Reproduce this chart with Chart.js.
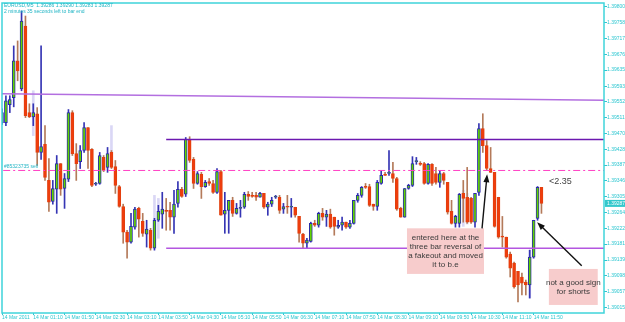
<!DOCTYPE html>
<html>
<head>
<meta charset="utf-8">
<script src="https://cdn.jsdelivr.net/npm/chart.js@4.4.0/dist/chart.umd.min.js"></script>
<style>
html, body { margin: 0; padding: 0; background: #fff; }
canvas { display: block; }
</style>
</head>
<body>
<canvas id="chart" width="625" height="322"></canvas>
<script>
// EURUSD M5, 14 Mar 2011, bar 0 = 00:30
const opens = [
  1.39498,1.39498,1.39545,1.39563,1.39659,1.39586,1.39750,1.39524,1.39513,1.39521,
  1.39420,1.39441,1.39347,1.39292,1.39324,1.39391,1.39326,1.39350,1.39524,1.39417,
  1.39396,1.39425,1.39485,1.39428,1.39337,1.39339,1.39407,1.39381,1.39420,1.39383,
  1.39331,1.39279,1.39212,1.39186,1.39225,1.39274,1.39240,1.39207,1.39217,1.39170,
  1.39243,1.39259,1.39269,1.39269,1.39251,1.39287,1.39324,1.39311,1.39454,1.39402,
  1.39339,1.39363,1.39331,1.39344,1.39339,1.39316,1.39370,1.39259,1.39269,1.39295,
  1.39261,1.39274,1.39277,1.39311,1.39308,1.39308,1.39303,1.39313,1.39277,1.39285,
  1.39303,1.39303,1.39272,1.39279,1.39277,1.39277,1.39253,1.39207,1.39183,1.39188,
  1.39235,1.39230,1.39261,1.39251,1.39259,1.39251,1.39225,1.39230,1.39238,1.39225,
  1.39235,1.39295,1.39308,1.39331,1.39331,1.39285,1.39279,1.39339,1.39363,1.39365,
  1.39365,1.39352,1.39274,1.39251,1.39326,1.39334,1.39396,1.39391,1.39391,1.39339,
  1.39389,1.39365,1.39342,1.39365,1.39342,1.39266,1.39235,1.39235,1.39313,1.39303,
  1.39300,1.39238,1.39316,1.39482,1.39438,1.39378,1.39368,1.39303,1.39201,1.39199,
  1.39155,1.39131,1.39110,1.39095,1.39082,1.39074,1.39147,1.39248,1.39329
];
const highs = [
  1.39534,1.39568,1.39568,1.39698,1.39711,1.39789,1.39776,1.39547,1.39547,1.39537,
  1.39698,1.39490,1.39404,1.39347,1.39412,1.39391,1.39365,1.39532,1.39529,1.39443,
  1.39438,1.39498,1.39485,1.39430,1.39342,1.39420,1.39412,1.39433,1.39425,1.39399,
  1.39334,1.39285,1.39217,1.39261,1.39277,1.39277,1.39261,1.39243,1.39222,1.39248,
  1.39282,1.39316,1.39300,1.39290,1.39321,1.39344,1.39329,1.39459,1.39461,1.39407,
  1.39370,1.39368,1.39347,1.39352,1.39347,1.39378,1.39373,1.39316,1.39295,1.39303,
  1.39287,1.39295,1.39316,1.39318,1.39316,1.39316,1.39316,1.39313,1.39290,1.39303,
  1.39308,1.39308,1.39287,1.39308,1.39300,1.39277,1.39253,1.39209,1.39196,1.39238,
  1.39243,1.39264,1.39274,1.39269,1.39272,1.39251,1.39243,1.39251,1.39238,1.39243,
  1.39295,1.39313,1.39331,1.39339,1.39337,1.39285,1.39347,1.39373,1.39368,1.39425,
  1.39394,1.39355,1.39277,1.39326,1.39337,1.39409,1.39407,1.39396,1.39394,1.39391,
  1.39391,1.39381,1.39373,1.39368,1.39342,1.39295,1.39256,1.39313,1.39347,1.39381,
  1.39303,1.39313,1.39495,1.39521,1.39451,1.39433,1.39368,1.39303,1.39253,1.39199,
  1.39160,1.39134,1.39110,1.39105,1.39087,1.39165,1.39243,1.39331,1.39329
];
const lows = [
  1.39493,1.39490,1.39524,1.39539,1.39607,1.39581,1.39511,1.39511,1.39490,1.39386,
  1.39402,1.39347,1.39266,1.39285,1.39261,1.39308,1.39274,1.39344,1.39412,1.39347,
  1.39378,1.39420,1.39378,1.39331,1.39334,1.39337,1.39370,1.39368,1.39378,1.39313,
  1.39277,1.39183,1.39144,1.39183,1.39220,1.39199,1.39201,1.39173,1.39165,1.39165,
  1.39240,1.39222,1.39217,1.39217,1.39209,1.39277,1.39303,1.39305,1.39394,1.39326,
  1.39337,1.39300,1.39329,1.39334,1.39313,1.39313,1.39256,1.39209,1.39209,1.39253,
  1.39259,1.39251,1.39274,1.39295,1.39303,1.39295,1.39303,1.39274,1.39256,1.39279,
  1.39300,1.39261,1.39261,1.39261,1.39251,1.39251,1.39186,1.39170,1.39170,1.39186,
  1.39227,1.39225,1.39243,1.39227,1.39222,1.39204,1.39222,1.39217,1.39222,1.39222,
  1.39233,1.39290,1.39303,1.39326,1.39279,1.39269,1.39269,1.39337,1.39360,1.39360,
  1.39342,1.39269,1.39251,1.39251,1.39324,1.39331,1.39389,1.39386,1.39337,1.39337,
  1.39334,1.39337,1.39329,1.39337,1.39259,1.39233,1.39225,1.39225,1.39238,1.39235,
  1.39235,1.39225,1.39308,1.39420,1.39373,1.39368,1.39225,1.39196,1.39173,1.39144,
  1.39095,1.39066,1.39030,1.39048,1.39048,1.39040,1.39144,1.39243,1.39261
];
const closes = [
  1.39524,1.39555,1.39558,1.39659,1.39633,1.39763,1.39516,1.39513,1.39524,1.39420,
  1.39435,1.39355,1.39290,1.39326,1.39391,1.39324,1.39352,1.39524,1.39417,1.39391,
  1.39425,1.39485,1.39425,1.39334,1.39339,1.39412,1.39373,1.39417,1.39381,1.39334,
  1.39279,1.39212,1.39186,1.39227,1.39272,1.39246,1.39209,1.39220,1.39170,1.39243,
  1.39266,1.39272,1.39266,1.39251,1.39285,1.39324,1.39305,1.39454,1.39399,1.39339,
  1.39365,1.39331,1.39342,1.39339,1.39316,1.39370,1.39256,1.39269,1.39295,1.39261,
  1.39274,1.39277,1.39311,1.39305,1.39305,1.39303,1.39313,1.39277,1.39285,1.39295,
  1.39305,1.39269,1.39279,1.39277,1.39279,1.39256,1.39209,1.39183,1.39191,1.39235,
  1.39230,1.39261,1.39251,1.39259,1.39225,1.39227,1.39230,1.39238,1.39225,1.39235,
  1.39295,1.39308,1.39329,1.39329,1.39282,1.39279,1.39342,1.39360,1.39360,1.39368,
  1.39352,1.39272,1.39251,1.39326,1.39334,1.39391,1.39399,1.39389,1.39339,1.39389,
  1.39339,1.39342,1.39365,1.39347,1.39264,1.39235,1.39253,1.39311,1.39300,1.39238,
  1.39238,1.39313,1.39482,1.39438,1.39378,1.39368,1.39227,1.39199,1.39199,1.39147,
  1.39118,1.39069,1.39074,1.39079,1.39074,1.39147,1.39243,1.39329,1.39287
];

// faint leftover bars that show through in the screenshot
const ghostBars = [8, 28, 39, 40, 118, 119, 135];
const ghostHighs = [1.39581, 1.39490, 1.39308, 1.39300, 1.39321, 1.39313, 1.39165];
const ghostLows = [1.39464, 1.39420, 1.39183, 1.39196, 1.39227, 1.39233, 1.39040];

// time axis: a label every 8 bars (40 min)
const timeTickBars = [0, 8, 16, 24, 32, 40, 48, 56, 64, 72, 80, 88, 96, 104, 112, 120, 128, 136];
const timeLabels = ['14 Mar 2011', '14 Mar 01:10', '14 Mar 01:50', '14 Mar 02:30', '14 Mar 03:10',
  '14 Mar 03:50', '14 Mar 04:30', '14 Mar 05:10', '14 Mar 05:50', '14 Mar 06:30', '14 Mar 07:10',
  '14 Mar 07:50', '14 Mar 08:30', '14 Mar 09:10', '14 Mar 09:50', '14 Mar 10:30', '14 Mar 11:10',
  '14 Mar 11:50'];
const priceTicks = [1.39800, 1.39758, 1.39717, 1.39676, 1.39635, 1.39593, 1.39552, 1.39511, 1.39470,
  1.39428, 1.39387, 1.39346, 1.39305, 1.39264, 1.39222, 1.39181, 1.39139, 1.39098, 1.39057, 1.39015];

// drawn objects
const trendBars = [0, 154];
const trendPrices = [1.39573, 1.39556];
const resistancePrice = 1.39454;
const supportPrice = 1.39170;
const orderPrice = 1.39373;
const levelStartBar = 42;
const lastBar = 154;

const bull = closes.map((c, i) => c > opens[i]);
const wickData = lows.map((l, i) => ({ x: i, y: [l, highs[i]] }));
const bodyData = opens.map((o, i) => ({ x: i, y: [o, closes[i]] }));
const ghostData = ghostBars.map((b, k) => ({ x: b, y: [ghostLows[k], ghostHighs[k]] }));

const axisColor = '#2cc6d0';
const txtFont = '"Liberation Sans", Arial, sans-serif';

function arrow(ctx, x1, y1, x2, y2) {
    const ang = Math.atan2(y2 - y1, x2 - x1);
    ctx.beginPath();
    ctx.moveTo(x1, y1);
    ctx.lineTo(x2 - 5 * Math.cos(ang), y2 - 5 * Math.sin(ang));
    ctx.stroke();
    ctx.beginPath();
    ctx.moveTo(x2, y2);
    ctx.lineTo(x2 - 8 * Math.cos(ang) + 3 * Math.sin(ang), y2 - 8 * Math.sin(ang) - 3 * Math.cos(ang));
    ctx.lineTo(x2 - 8 * Math.cos(ang) - 3 * Math.sin(ang), y2 - 8 * Math.sin(ang) + 3 * Math.cos(ang));
    ctx.closePath();
    ctx.fill();
}

function noteBox(ctx, x, y, b, lines, lh) {
    const left = x.getPixelForValue(b.x0), right = x.getPixelForValue(b.x1);
    const top = y.getPixelForValue(b.y0), bottom = y.getPixelForValue(b.y1);
    ctx.fillStyle = '#f7cccc';
    ctx.fillRect(left, top, right - left, bottom - top);
    ctx.fillStyle = '#3a3a3a';
    ctx.font = '8px ' + txtFont;
    ctx.textAlign = 'center';
    ctx.textBaseline = 'middle';
    const cx = (left + right) / 2;
    const cy = (top + bottom) / 2 - (lines.length - 1) * lh / 2;
    lines.forEach((t, k) => ctx.fillText(t, cx, cy + k * lh));
}

const overlay = {
    id: 'overlay',
    afterDatasetsDraw(chart) {
        const { ctx, chartArea: a, scales: { x, y } } = chart;
        ctx.save();

        // frame
        ctx.strokeStyle = '#3fd4da';
        ctx.lineWidth = 1.5;
        ctx.strokeRect(a.left, a.top, a.right - a.left, a.bottom - a.top);

        // header
        ctx.fillStyle = '#1fb4c4';
        ctx.font = '5px ' + txtFont;
        ctx.textAlign = 'left';
        ctx.textBaseline = 'top';
        ctx.fillText('EURUSD,M5  1.39286 1.39290 1.39283 1.39287', a.left + 2, 3.5);
        ctx.fillText('2 minutes 35 seconds left to bar end', a.left + 2, 9);

        // order label
        ctx.textBaseline = 'bottom';
        ctx.fillText('#85323735 sell', a.left + 2, y.getPixelForValue(orderPrice) - 1);

        // notes
        noteBox(ctx, x, y, { x0: 103.6, x1: 123.3, y0: 1.39222, y1: 1.39103 },
            ['entered here at the', 'three bar reversal of', 'a fakeout and moved', 'it to b.e'], 9);
        noteBox(ctx, x, y, { x0: 139.9, x1: 152.4, y0: 1.39116, y1: 1.39022 },
            ['not a good sign', 'for shorts'], 9);

        ctx.fillStyle = '#444';
        ctx.font = '9px ' + txtFont;
        ctx.textAlign = 'left';
        ctx.textBaseline = 'middle';
        ctx.fillText('<2.35', x.getPixelForValue(139.9), y.getPixelForValue(1.39345));

        ctx.strokeStyle = '#111';
        ctx.fillStyle = '#111';
        ctx.lineWidth = 1.4;
        arrow(ctx, x.getPixelForValue(122.8), y.getPixelForValue(1.39222),
            x.getPixelForValue(124.1), y.getPixelForValue(1.39363));
        arrow(ctx, x.getPixelForValue(148.3), y.getPixelForValue(1.39124),
            x.getPixelForValue(136.9), y.getPixelForValue(1.39238));

        // current price marker
        const last = closes[closes.length - 1];
        const py = y.getPixelForValue(last);
        ctx.fillStyle = '#34c8cc';
        ctx.fillRect(a.right + 1, py - 3.5, 20, 7);
        ctx.fillStyle = '#ffffff';
        ctx.font = '5px ' + txtFont;
        ctx.textAlign = 'left';
        ctx.fillText(last.toFixed(5), a.right + 3, py + 0.5);
        ctx.restore();
    }
};

new Chart(document.getElementById('chart'), {
    type: 'bar',
    data: {
        datasets: [
            {
                type: 'line',
                data: trendBars.map((b, k) => ({ x: b, y: trendPrices[k] })),
                borderColor: '#b36fe0',
                borderWidth: 1.5,
                pointRadius: 0,
                order: 1
            },
            {
                type: 'line',
                data: [{ x: levelStartBar, y: resistancePrice }, { x: lastBar, y: resistancePrice }],
                borderColor: '#6c18b0',
                borderWidth: 1.5,
                pointRadius: 0,
                order: 1
            },
            {
                type: 'line',
                data: [{ x: levelStartBar, y: supportPrice }, { x: lastBar, y: supportPrice }],
                borderColor: '#b356e0',
                borderWidth: 1.5,
                pointRadius: 0,
                order: 1
            },
            {
                type: 'line',
                data: [{ x: 0.3, y: orderPrice }, { x: lastBar, y: orderPrice }],
                borderColor: '#ff40c4',
                borderWidth: 1,
                borderDash: [7, 3, 2, 3],
                pointRadius: 0,
                order: 1
            },
            {
                label: 'ghost',
                data: ghostData,
                backgroundColor: 'rgba(150, 140, 225, 0.35)',
                borderWidth: 0,
                barThickness: 2,
                grouped: false,
                order: 4
            },
            {
                label: 'wick',
                data: wickData,
                backgroundColor: bull.map(u => u ? '#3535b4' : '#b47a5a'),
                borderWidth: 0,
                barThickness: 1,
                grouped: false,
                order: 3
            },
            {
                label: 'body',
                data: bodyData,
                backgroundColor: bull.map(u => u ? '#62d400' : '#f03c0c'),
                borderColor: bull.map(u => u ? '#2a2aa8' : '#e2400f'),
                borderWidth: 1,
                borderSkipped: false,
                barThickness: 3,
                minBarLength: 1,
                grouped: false,
                order: 2
            }
        ]
    },
    options: {
        responsive: false,
        animation: false,
        events: [],
        layout: { padding: { left: 2, top: 2, right: 0, bottom: 0 } },
        plugins: { legend: { display: false }, tooltip: { enabled: false } },
        scales: {
            x: {
                type: 'linear',
                min: 0,
                max: lastBar,
                bounds: 'data',
                offset: false,
                border: { display: false },
                grid: { offset: false, drawOnChartArea: false, color: axisColor, tickLength: 2 },
                ticks: {
                    color: axisColor,
                    font: { size: 5, family: txtFont },
                    align: 'start',
                    padding: 0,
                    maxRotation: 0,
                    minRotation: 0,
                    autoSkip: false,
                    callback: (v, i) => timeLabels[i]
                },
                afterBuildTicks: s => { s.ticks = timeTickBars.map(v => ({ value: v })); },
                afterFit: s => { s.height = 9; }
            },
            y: {
                type: 'linear',
                position: 'right',
                min: 1.39001,
                max: 1.39810,
                bounds: 'data',
                border: { display: false },
                grid: { drawOnChartArea: false, color: axisColor, tickLength: 3 },
                ticks: {
                    color: axisColor,
                    font: { size: 5, family: txtFont },
                    padding: 0,
                    autoSkip: false,
                    callback: v => v.toFixed(5)
                },
                afterBuildTicks: s => { s.ticks = priceTicks.map(v => ({ value: v })); },
                afterFit: s => { s.width = 21; }
            }
        }
    },
    plugins: [overlay]
});
</script>
</body>
</html>
